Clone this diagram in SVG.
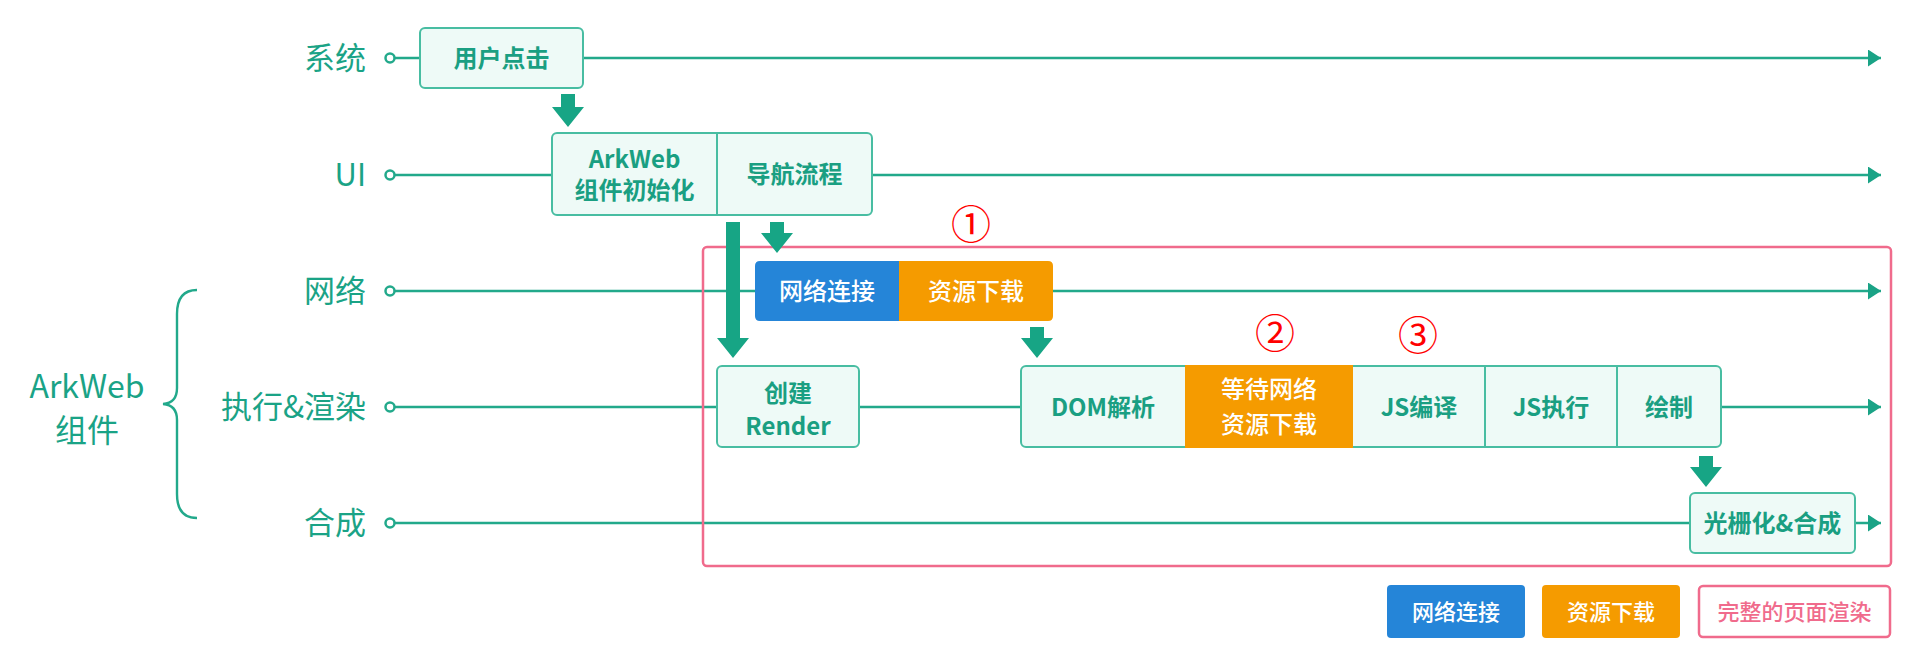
<svg xmlns="http://www.w3.org/2000/svg" width="1918" height="667" viewBox="0 0 1918 667">
<defs>
<style>
.lane{stroke:#22a98b;stroke-width:2.6;fill:none}
.dot{fill:#fff;stroke:#22a98b;stroke-width:2.5}
.lbl{font-family:"Noto Sans CJK SC","Noto Sans",sans-serif;font-size:31px;font-weight:400;fill:#1aa386;text-anchor:end}
.box{fill:#eefaf7;stroke:#48bda2;stroke-width:2}
.div{stroke:#48bda2;stroke-width:2}
.bt{font-family:"Noto Sans CJK SC","Noto Sans",sans-serif;font-size:24px;font-weight:700;fill:#1a9f82;text-anchor:middle}
.wt{font-family:"Noto Sans CJK SC","Noto Sans",sans-serif;font-size:24px;font-weight:500;fill:#fff;text-anchor:middle}
.lt{font-family:"Noto Sans CJK SC","Noto Sans",sans-serif;font-size:22px;font-weight:500;text-anchor:middle}
.num{font-family:"Noto Sans CJK SC","DejaVu Sans",sans-serif;font-size:40px;fill:#ff0000;text-anchor:middle}
.blk{fill:#17a585}
</style>
<marker id="ah" markerUnits="userSpaceOnUse" markerWidth="13" markerHeight="17" refX="13" refY="8.5" orient="auto">
<path d="M0,0 L13,8.5 L0,17 z" fill="#1aa386"/>
</marker>
</defs>
<rect width="1918" height="667" fill="#fff"/>

<g id="lanes">
<line class="lane" x1="394" y1="58" x2="1881" y2="58" marker-end="url(#ah)"/>
<line class="lane" x1="394" y1="175" x2="1881" y2="175" marker-end="url(#ah)"/>
<line class="lane" x1="394" y1="291" x2="1881" y2="291" marker-end="url(#ah)"/>
<line class="lane" x1="394" y1="407" x2="1881" y2="407" marker-end="url(#ah)"/>
<line class="lane" x1="394" y1="523" x2="1881" y2="523" marker-end="url(#ah)"/>
<circle class="dot" cx="390" cy="58" r="4.5"/>
<circle class="dot" cx="390" cy="175" r="4.5"/>
<circle class="dot" cx="390" cy="291" r="4.5"/>
<circle class="dot" cx="390" cy="407" r="4.5"/>
<circle class="dot" cx="390" cy="523" r="4.5"/>
</g>

<g id="lane-labels">
<text class="lbl" x="366" y="69">系统</text>
<text class="lbl" x="366" y="186">UI</text>
<text class="lbl" x="366" y="302">网络</text>
<text class="lbl" x="366" y="418">执行&amp;渲染</text>
<text class="lbl" x="366" y="534">合成</text>
</g>

<g id="arkweb-group">
<path d="M197,290 Q177,290 177,314 L177,388 Q177,403 163,404 Q177,405 177,420 L177,494 Q177,518 197,518" fill="none" stroke="#22a98b" stroke-width="2.4"/>
<text x="87" y="398" font-family="'Noto Sans CJK SC','Noto Sans',sans-serif" font-size="32" fill="#1aa386" text-anchor="middle">ArkWeb</text>
<text x="87" y="442" font-family="'Noto Sans CJK SC','Noto Sans',sans-serif" font-size="32" fill="#1aa386" text-anchor="middle">组件</text>
</g>

<rect id="render-frame" x="703" y="247" width="1188" height="319" rx="4" fill="none" stroke="#f06b8c" stroke-width="2.5"/>

<g id="connectors">
<path class="blk" d="M561,94 H575 V107 H584 L568,127 L552,107 H561 Z"/>
<path class="blk" d="M726,222 H740 V338 H749 L733,358 L717,338 H726 Z"/>
<path class="blk" d="M770,222 H784 V233 H793 L777,253 L761,233 H770 Z"/>
<path class="blk" d="M1030,327 H1044 V338 H1053 L1037,358 L1021,338 H1030 Z"/>
<path class="blk" d="M1699,456 H1713 V467 H1722 L1706,487 L1690,467 H1699 Z"/>
</g>

<g id="node-user-click">
<rect class="box" x="420" y="28" width="163" height="60" rx="5"/>
<text class="bt" x="501.5" y="67">用户点击</text>
</g>

<g id="node-arkweb-init">
<rect class="box" x="552" y="133" width="320" height="82" rx="5"/>
<line class="div" x1="717" y1="133" x2="717" y2="215"/>
<text class="bt" x="634.5" y="168" font-size="23">ArkWeb</text>
<text class="bt" x="634.5" y="199" font-size="23">组件初始化</text>
<text class="bt" x="794.5" y="183">导航流程</text>
</g>

<g id="node-network">
<path d="M760,261 H899 V321 H760 Q755,321 755,316 V266 Q755,261 760,261 Z" fill="#2585d8"/>
<path d="M899,261 H1048 Q1053,261 1053,266 V316 Q1053,321 1048,321 H899 Z" fill="#f59b00"/>
<text class="wt" x="827" y="300">网络连接</text>
<text class="wt" x="976" y="300">资源下载</text>
</g>

<g id="node-create-render">
<rect class="box" x="717" y="366" width="142" height="81" rx="5"/>
<text class="bt" x="788" y="402">创建</text>
<text class="bt" x="788" y="435">Render</text>
</g>

<g id="node-pipeline">
<rect class="box" x="1021" y="366" width="700" height="81" rx="5"/>
<rect x="1185" y="365" width="168" height="83" fill="#f59b00"/>
<line class="div" x1="1485" y1="366" x2="1485" y2="447"/>
<line class="div" x1="1617" y1="366" x2="1617" y2="447"/>
<text class="bt" x="1103" y="416">DOM解析</text>
<text class="wt" x="1269" y="398">等待网络</text>
<text class="wt" x="1269" y="433">资源下载</text>
<text class="bt" x="1419" y="416">JS编译</text>
<text class="bt" x="1551" y="416">JS执行</text>
<text class="bt" x="1669" y="416">绘制</text>
</g>

<g id="node-raster">
<rect class="box" x="1690" y="493" width="165" height="60" rx="5"/>
<text class="bt" x="1772.5" y="532">光栅化&amp;合成</text>
</g>

<g id="markers">
<text class="num" x="971" y="239">①</text>
<text class="num" x="1275" y="348">②</text>
<text class="num" x="1418" y="350">③</text>
</g>

<g id="legend">
<rect x="1387" y="585" width="138" height="53" rx="4" fill="#2585d8"/>
<text class="lt" x="1456" y="620" fill="#fff">网络连接</text>
<rect x="1542" y="585" width="138" height="53" rx="4" fill="#f59b00"/>
<text class="lt" x="1611" y="620" fill="#fff">资源下载</text>
<rect x="1699" y="586" width="191" height="51" rx="4" fill="#fff" stroke="#f06b8c" stroke-width="2.5"/>
<text class="lt" x="1794.5" y="620" fill="#f06b8c">完整的页面渲染</text>
</g>
</svg>
